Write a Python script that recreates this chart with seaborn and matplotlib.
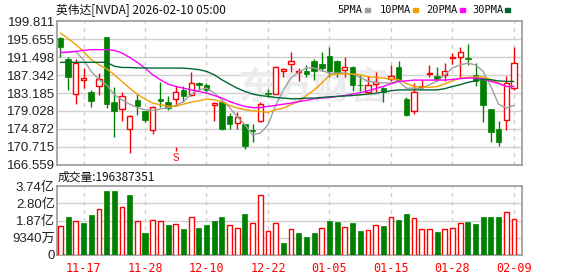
import numpy as np
import matplotlib
matplotlib.use("Agg")
import matplotlib.pyplot as plt
import seaborn as sns

# ---------------- data ----------------
opens = [195.93, 191.0, 183.0, 186.1, 183.4, 184.86, 196.16, 181.0, 179.5, 174.9,
         181.5, 178.9, 174.65, 181.77, 181.0, 181.77, 183.93, 182.77, 185.41, 184.95,
         180.3, 181.07, 177.9, 176.3, 175.96, 174.6, 176.8, 183.1, 183.0, 188.2,
         189.96, 188.04, 188.35, 190.66, 189.9, 191.8, 190.66, 188.57, 189.27, 185.1,
         183.4, 185.25, 184.4, 186.5, 189.2, 181.77, 179.05, 184.48, 187.57, 187.2,
         187.4, 191.2, 191.6, 191.3, 187.3, 186.1, 179.45, 174.8, 176.9, 184.4]
highs = [196.2, 191.45, 190.99, 188.97, 183.8, 187.8, 196.2, 184.6, 183.4, 178.0,
         182.9, 179.0, 180.07, 185.7, 182.5, 184.7, 184.7, 188.0, 185.7, 185.41,
         181.0, 181.4, 178.5, 178.75, 176.0, 175.96, 181.2, 184.2, 189.36, 188.97,
         192.8, 188.97, 189.7, 191.06, 192.8, 193.9, 190.8, 191.45, 189.5, 187.3,
         187.2, 188.1, 184.55, 189.6, 190.66, 182.2, 185.4, 186.2, 189.6, 189.13,
         190.06, 192.45, 193.8, 194.5, 190.1, 186.1, 179.45, 176.6, 187.04, 193.85]
lows = [191.6, 183.93, 180.6, 184.3, 179.84, 182.77, 179.7, 172.9, 176.6, 169.3,
        178.1, 176.4, 173.64, 179.84, 179.3, 180.3, 181.2, 182.6, 183.9, 183.4,
        176.6, 174.6, 174.87, 174.87, 170.2, 171.8, 176.4, 182.2, 182.93, 186.8,
        188.0, 186.0, 186.8, 186.25, 188.2, 186.8, 186.9, 186.8, 183.7, 183.7,
        183.1, 183.4, 181.0, 185.9, 186.0, 177.75, 178.3, 184.0, 186.8, 186.0,
        185.9, 189.96, 186.65, 189.6, 184.86, 176.36, 171.85, 170.9, 174.64, 183.9]
closes = [193.91, 186.95, 190.13, 186.65, 181.4, 186.41, 180.6, 178.9, 182.4, 177.8,
          180.2, 176.9, 179.84, 181.37, 179.7, 183.4, 182.6, 185.41, 185.1, 183.93,
          180.77, 174.8, 176.1, 177.6, 170.9, 174.27, 180.68, 182.9, 189.1, 188.73,
          190.66, 188.35, 187.7, 188.2, 188.97, 188.3, 187.8, 189.13, 185.1, 184.95,
          184.95, 185.8, 183.4, 187.04, 186.25, 177.98, 183.4, 184.7, 187.8, 186.5,
          188.4, 191.45, 192.68, 191.1, 185.9, 180.45, 174.18, 171.85, 185.5, 190.06]

# volume in 亿 shares, and whether the volume bar is red (up vs previous close)
volumes = [1.55, 2.06, 1.82, 1.73, 2.17, 2.50, 3.48, 3.48, 2.59, 3.26,
           1.82, 1.18, 1.90, 1.82, 1.62, 1.66, 1.40, 2.06, 1.46, 1.62,
           1.84, 2.06, 1.60, 1.44, 2.22, 1.71, 3.24, 1.28, 1.71, 0.64,
           1.39, 1.18, 0.97, 1.18, 1.44, 1.84, 1.79, 1.51, 1.73, 1.29,
           1.33, 1.60, 1.57, 2.04, 1.90, 2.22, 1.99, 1.39, 1.39, 1.24,
           1.39, 1.44, 1.71, 1.79, 1.68, 2.06, 2.06, 2.06, 2.31, 1.93]
vol_up = [1, 0, 1, 0, 0, 1, 0, 0, 1, 0,
          1, 0, 1, 1, 0, 1, 0, 1, 0, 0,
          0, 0, 1, 1, 0, 1, 1, 1, 1, 0,
          1, 0, 0, 0, 1, 0, 0, 1, 0, 0,
          1, 1, 0, 1, 0, 0, 1, 1, 1, 0,
          1, 1, 1, 0, 0, 0, 0, 0, 1, 1]

ma5 = [192.45, 192.6, 192.8, 190.9, 188.2, 186.26, 185.1, 182.8, 181.6, 180.6,
       179.8, 179.3, 179.1, 179.5, 179.8, 180.3, 181.2, 182.9, 183.9, 184.3,
       183.2, 181.6, 179.8, 177.7, 175.8, 173.5, 173.9, 175.8, 180.3, 183.9,
       186.7, 188.0, 189.0, 189.0, 188.35, 187.8, 187.8, 187.8, 187.6, 186.8,
       185.9, 185.65, 185.5, 185.5, 185.9, 184.3, 184.3, 184.2, 185.1, 185.9,
       187.4, 189.0, 189.7, 190.1, 189.7, 188.2, 184.7, 180.6, 179.7, 180.3]
ma10 = [197.1, 195.78, 194.4, 192.84, 190.9, 189.74, 188.8, 187.42, 185.87, 184.3,
        182.93, 181.77, 180.84, 180.45, 180.14, 180.07, 180.6, 181.07, 181.4, 181.77,
        181.6, 181.2, 180.3, 179.7, 179.3, 179.06, 178.9, 178.7, 179.3, 179.7,
        180.5, 181.2, 182.6, 183.9, 185.5, 187.3, 187.6, 187.6, 187.6, 187.4,
        187.0, 186.8, 186.65, 186.4, 186.3, 185.4, 184.7, 184.6, 184.5, 184.7,
        185.25, 186.0, 186.65, 186.8, 186.95, 186.95, 186.26, 185.5, 184.7, 184.7]
ma20 = [192.6, 192.7, 192.84, 193.07, 193.23, 193.23, 193.23, 193.07, 192.45, 191.44,
        190.3, 188.97, 187.42, 186.26, 185.25, 184.7, 184.3, 183.9, 183.55, 183.16,
        182.6, 182.0, 181.2, 180.6, 180.07, 179.8, 179.8, 180.07, 180.3, 180.6,
        180.84, 181.2, 181.46, 181.85, 182.0, 182.15, 182.4, 182.6, 182.93, 183.24,
        183.7, 184.2, 184.7, 185.33, 185.87, 186.0, 186.18, 186.18, 186.18, 186.18,
        186.18, 186.34, 186.5, 186.65, 186.65, 186.5, 185.87, 185.4, 184.7, 184.7]
ma30 = [190.3, 190.3, 190.3, 190.3, 190.3, 190.3, 190.3, 189.4, 189.1, 189.1,
        189.0, 189.0, 188.97, 188.97, 188.97, 188.97, 188.95, 188.8, 188.6, 188.2,
        187.42, 186.26, 185.25, 184.3, 183.55, 182.93, 182.6, 182.4, 182.15, 182.0,
        181.85, 181.85, 182.0, 182.0, 182.15, 182.3, 182.4, 182.5, 182.6, 182.77,
        182.93, 183.1, 183.4, 183.7, 183.9, 183.9, 183.9, 183.9, 183.9, 183.9,
        184.2, 184.7, 185.1, 185.65, 186.0, 186.4, 186.26, 186.0, 185.87, 185.87]

date_idx = [3, 11, 19, 27, 35, 43, 51, 59]
date_labels = ['11-17', '11-28', '12-10', '12-22', '01-05', '01-15', '01-28', '02-09']
price_ticks = [166.559, 170.715, 174.872, 179.028, 183.185, 187.342, 191.498, 195.655, 199.811]
vol_ticks = [0, 0.934, 1.868, 2.802, 3.736]
vol_tick_labels = ['0', '9340万', '1.87亿', '2.80亿', '3.74亿']
title = '英伟达[NVDA] 2026-02-10 05:00'
vol_text = '成交量:196387351'
legend_names = ['5PMA', '10PMA', '20PMA', '30PMA']

# ---------------- style ----------------
sns.set_style("white")
plt.rcParams['font.family'] = ['Liberation Sans', 'Noto Sans CJK SC', 'DejaVu Sans']

RED = '#ff0000'
GREEN = '#008000'
GRID = '#d0d0d0'
FRAME = '#999999'
MA_COLORS = ['#a0a0a0', '#f0a000', '#ff00ff', '#006633']

W, H = 578, 276
fig = plt.figure(figsize=(W / 100, H / 100), dpi=100)


def rect(l, t, r, b):
    return [l / W, 1 - b / H, (r - l) / W, (b - t) / H]


ax = fig.add_axes(rect(57, 21.3, 522, 164.7))
axv = fig.add_axes(rect(57, 186.3, 522, 254.7))

o = np.array(opens); h = np.array(highs); l = np.array(lows); c = np.array(closes)
n = len(o)
x = np.arange(n)
up = c >= o

# grid
for a in (ax, axv):
    for xi in date_idx:
        a.axvline(xi, color=GRID, lw=1, ls=(0, (3, 3)), zorder=0)
    for s in a.spines.values():
        s.set_color(FRAME)
        s.set_linewidth(1.2)
    a.set_xlim(-0.45, 60.05)
    a.tick_params(length=0)

for yt in price_ticks[1:-1]:
    ax.axhline(yt, color=GRID, lw=1, zorder=0)
for yt in vol_ticks[1:-1]:
    axv.axhline(yt, color=GRID, lw=1, zorder=0)

# watermark
ax.text(33, 184.4, '东方财富', color='#ececf0', fontsize=27, fontweight='bold',
        ha='center', va='center', family=['Noto Sans CJK SC'], zorder=1)

# candles
wick_cols = [RED if u else GREEN for u in up]
ax.vlines(x, l, h, colors=wick_cols, lw=1, zorder=3)
bottom = np.minimum(o, c)
height = np.maximum(np.abs(c - o), 0.06)
ax.bar(x[up], height[up], bottom=bottom[up], width=0.68, facecolor='white',
       edgecolor=RED, linewidth=1, zorder=4)
ax.bar(x[~up], height[~up], bottom=bottom[~up], width=0.72, facecolor=GREEN,
       edgecolor=GREEN, linewidth=0.5, zorder=4)

# moving averages
for arr, col in zip([ma5, ma10, ma20, ma30], MA_COLORS):
    sns.lineplot(x=x, y=arr, ax=ax, color=col, lw=1, legend=False, zorder=5)

ax.set_ylim(price_ticks[0], price_ticks[-1])
ax.set_yticks(price_ticks)
ax.set_yticklabels([f'{v:.3f}' for v in price_ticks], fontsize=9.5, color='#222222')
ax.set_xticks([])
ax.set_xlabel('')
ax.set_ylabel('')
ax.tick_params(axis='y', pad=1.5)

# "S" signal mark under the 15th candle
ax.text(15, 168.1, 'S', color=RED, fontsize=7, ha='center', va='center', zorder=6)
ax.plot([15], [170.3], marker='|', markersize=3, color=RED, zorder=6)

# volume
v = np.array(volumes)
vu = np.array(vol_up).astype(bool)
axv.bar(x[vu], v[vu], width=0.62, facecolor='white', edgecolor=RED, linewidth=1, zorder=3)
axv.bar(x[~vu], v[~vu], width=0.66, facecolor=GREEN, edgecolor=GREEN, linewidth=0.5, zorder=3)
axv.set_ylim(0, vol_ticks[-1])
axv.set_yticks(vol_ticks)
axv.set_yticklabels(vol_tick_labels, fontsize=9.5, color='#222222')
axv.set_xticks(date_idx)
axv.set_xticklabels(date_labels, fontsize=8.5, color=RED, family=['DejaVu Sans Mono'])
axv.tick_params(axis='x', pad=5)
axv.tick_params(axis='y', pad=1.5)

# header texts
fig.text(56 / W, 1 - 10 / H, title, fontsize=8.5, ha='left', va='center',
         family=['Noto Sans CJK SC', 'DejaVu Sans'], color='#111111')
fig.text(58 / W, 1 - 177 / H, vol_text, fontsize=8.5, ha='left', va='center',
         family=['Noto Sans CJK SC', 'DejaVu Sans'], color='#111111')

leg_x = [337, 380, 426, 472]
sq_x = [365, 413, 460, 505]
for name, lx, sx, col in zip(legend_names, leg_x, sq_x, MA_COLORS):
    fig.text(lx / W, 1 - 10 / H, name, fontsize=7.5, ha='left', va='center',
             family=['DejaVu Sans Mono'], color='#111111')
    fig.patches.append(plt.Rectangle((sx / W, 1 - 12 / H), 5 / W, 4 / H,
                                     transform=fig.transFigure, color=col, figure=fig))

fig.savefig('out.png', dpi=100)
